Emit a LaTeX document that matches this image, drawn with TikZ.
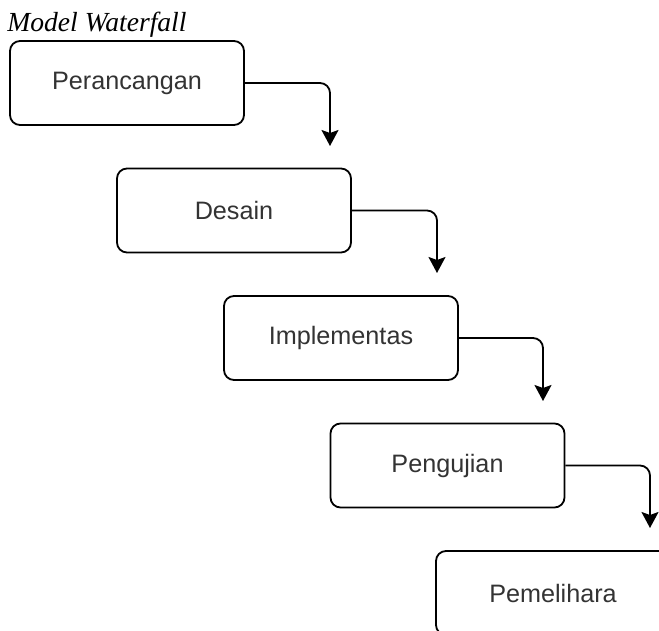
\documentclass[tikz,border=0pt]{standalone}
\usepackage{fontspec}
\newfontfamily\boxfont{Liberation Sans}
\newfontfamily\titlefont{Liberation Serif}
\usetikzlibrary{arrows.meta}
\tikzstyle{tahap}=[rectangle,rounded corners=5pt,draw=black,line width=0.9pt,minimum width=117pt,minimum height=42pt,inner sep=0pt,font=\boxfont\fontsize{12.6}{15}\selectfont,text=black!80]
\tikzstyle{alur}=[line width=0.9pt,rounded corners=5pt,-{Stealth[length=8pt,width=8.5pt,inset=1.5pt]}]

\begin{document}
\begin{tikzpicture}[x=0.5pt,y=-0.5pt]
\path[use as bounding box,clip] (0,0) rectangle (659,631);
\node[anchor=base west,inner sep=0pt,font=\titlefont\itshape\fontsize{13.8}{16}\selectfont] (judul) at (7,32) {Model Waterfall};
\node[tahap] (t1) at (127,83) {Perancangan};
\node[tahap] (t2) at (234,210.5) {Desain};
\node[tahap] (t3) at (341,338) {Implementas};
\node[tahap] (t4) at (447.5,465.5) {Pengujian};
\node[tahap] (t5) at (553,593) {Pemelihara};
\coordinate (u1) at (330,146);
\coordinate (u2) at (437,273);
\coordinate (u3) at (543,401);
\coordinate (u4) at (650,528);
\draw[alur] (t1.east) -| (u1);
\draw[alur] (t2.east) -| (u2);
\draw[alur] (t3.east) -| (u3);
\draw[alur] (t4.east) -| (u4);
\end{tikzpicture}
\end{document}
